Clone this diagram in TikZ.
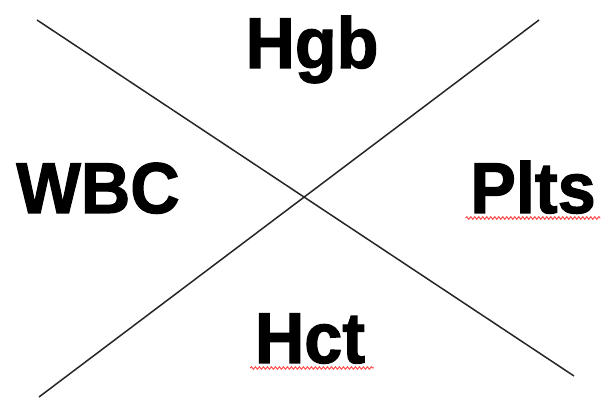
\documentclass[tikz,border=0pt]{standalone}
\usepackage{fontspec}
\setmainfont{Liberation Sans}[FakeStretch=0.95,BoldFeatures={FakeBold=1.6}]
\usetikzlibrary{decorations.pathmorphing}

\begin{document}
\begin{tikzpicture}[x=1pt,y=-1pt,line width=1.5pt,
    lab node/.style={anchor=base,inner sep=0pt,font=\fontsize{72}{80}\selectfont\bfseries},
    typo line/.style={red!70,line width=1pt,decorate,decoration={snake,amplitude=1.3pt,segment length=4pt}}]

    \useasboundingbox (0,0) rectangle (606,398);

    \coordinate (tl) at (37,20);
    \coordinate (br) at (574,376);
    \coordinate (bl) at (39,397);
    \coordinate (tr) at (539,20);

    \draw[black!85] (tl) -- (br);
    \draw[black!85] (bl) -- (tr);

    \node[lab node] (hgb)  at (312,68)  {Hgb};
    \node[lab node] (wbc)  at (98,213)  {WBC};
    \node[lab node] (plts) at (533,213) {Plts};
    \node[lab node] (hct)  at (310,363) {Hct};

    \draw[typo line] ([xshift=-4pt,yshift=-5pt]plts.base west) -- ([xshift=4pt,yshift=-5pt]plts.base east);
    \draw[typo line] ([xshift=-4pt,yshift=-5pt]hct.base west) -- ([xshift=8pt,yshift=-5pt]hct.base east);
\end{tikzpicture}
\end{document}
